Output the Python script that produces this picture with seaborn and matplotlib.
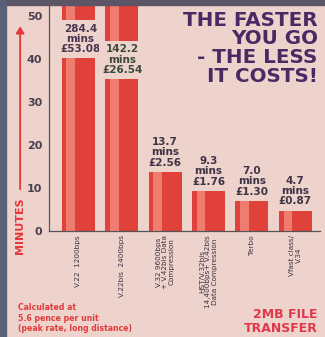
import matplotlib
matplotlib.use("Agg")
import matplotlib.pyplot as plt
import seaborn as sns
import pandas as pd

# Modem standards and the time / cost to move a 2MB file
standards = [
    "V.22  1200bps",
    "V.22bis  2400bps",
    "V.32 9600bps\n+ V.42bis Data\nCompression",
    "HST/V.32bis\n14,400bps+ V.42bis\nData Compression",
    "Terbo",
    "Vfast class/\nV.34",
]
minutes = [284.4, 142.2, 13.7, 9.3, 7.0, 4.7]
costs = ["£53.08", "£26.54", "£2.56", "£1.76", "£1.30", "£0.87"]
y_ticks = [0, 10, 20, 30, 40, 50]

BG = "#eed3cc"
RED = "#e0413a"
INK = "#3f3346"

sns.set_theme(style="white")
plt.rcParams["font.family"] = ["DejaVu Sans"]

df = pd.DataFrame({"standard": standards, "minutes": minutes})

fig = plt.figure(figsize=(3.25, 3.37), dpi=100, facecolor=BG)
ax = fig.add_axes([0.151, 0.315, 0.834, 0.67])
ax.set_facecolor(BG)

sns.barplot(data=df, x="standard", y="minutes", color=RED, width=0.76,
            saturation=1, ax=ax, zorder=2, linewidth=0, edgecolor=RED)
# lighter sheen down the left side of each bar
sns.barplot(data=df, x="standard", y="minutes", color="#f07b6f", width=0.2,
            saturation=1, ax=ax, zorder=3, linewidth=0, edgecolor="#f07b6f")
for p in ax.patches[len(minutes):]:
    p.set_x(p.get_x() - 0.17)

ax.set_ylim(0, 52.5)
ax.set_xlim(-0.67, 5.57)
ax.set_yticks(y_ticks)
ax.set_yticklabels([str(t) for t in y_ticks], fontsize=8, fontweight="bold", color="#4a4050")
ax.tick_params(axis="y", length=3, width=0.8, color="#555", pad=2)
ax.tick_params(axis="x", length=0, pad=3)
ax.set_xticks(range(len(standards)))
ax.set_xticklabels(standards, rotation=90, fontsize=5.2, color="#3a3040",
                   va="top", ha="center", linespacing=1.1)
ax.set_xlabel("")
ax.set_ylabel("")
for s in ["top", "right"]:
    ax.spines[s].set_visible(False)
for s in ["left", "bottom"]:
    ax.spines[s].set_color("#555")
    ax.spines[s].set_linewidth(0.9)

label_kw = dict(ha="center", va="center", fontsize=7.5, fontweight="bold",
                linespacing=1.05, zorder=5)
# the two tall bars run off the scale; their labels break the bar
ax.text(0.05, 44.6, f"{minutes[0]}\nmins\n{costs[0]}", color="#4a3550",
        bbox=dict(boxstyle="square,pad=0.35", fc=BG, ec="none"), **label_kw)
ax.text(1.02, 39.8, f"{minutes[1]}\nmins\n{costs[1]}", color="#3d4a3a",
        bbox=dict(boxstyle="square,pad=0.35", fc=BG, ec="none"), **label_kw)
for i in range(2, len(minutes)):
    ax.annotate(f"{minutes[i]}\nmins\n{costs[i]}", (i, minutes[i]),
                xytext=(0, 3), textcoords="offset points", ha="center", va="bottom",
                fontsize=7.5, fontweight="bold", color=INK, linespacing=1.05, zorder=5)

# headline
fig.text(0.978, 0.968, "THE FASTER\nYOU GO\n- THE LESS\nIT COSTS!", ha="right", va="top",
         fontsize=14.3, fontweight="heavy", color="#4b2a63", linespacing=0.98)

# axis title with arrow
fig.text(0.062, 0.33, "MINUTES", rotation=90, ha="center", va="center",
         fontsize=8, fontweight="bold", color="#e2383a")
fig.patches.append(matplotlib.patches.FancyArrowPatch(
    (0.062, 0.43), (0.062, 0.93), transform=fig.transFigure,
    arrowstyle="-|>,head_length=4,head_width=2.5", color="#e2383a", lw=1.3))

fig.text(0.055, 0.056, "Calculated at\n5.6 pence per unit\n(peak rate, long distance)",
         ha="left", va="center", fontsize=5.6, fontweight="bold", color="#e23a3c",
         linespacing=1.2)
fig.text(0.978, 0.047, "2MB FILE\nTRANSFER", ha="right", va="center",
         fontsize=9, fontweight="bold", color="#e0384a", linespacing=1.1)

# dark strip along the top edge and left edge of the panel
fig.patches.append(matplotlib.patches.Rectangle((0, 0.985), 1, 0.015, transform=fig.transFigure,
                                               color="#5b5566", zorder=0))
fig.patches.append(matplotlib.patches.Rectangle((0, 0), 0.018, 1, transform=fig.transFigure,
                                               color="#5a6078", zorder=0))

fig.savefig("out.png", dpi=100, facecolor=BG)
